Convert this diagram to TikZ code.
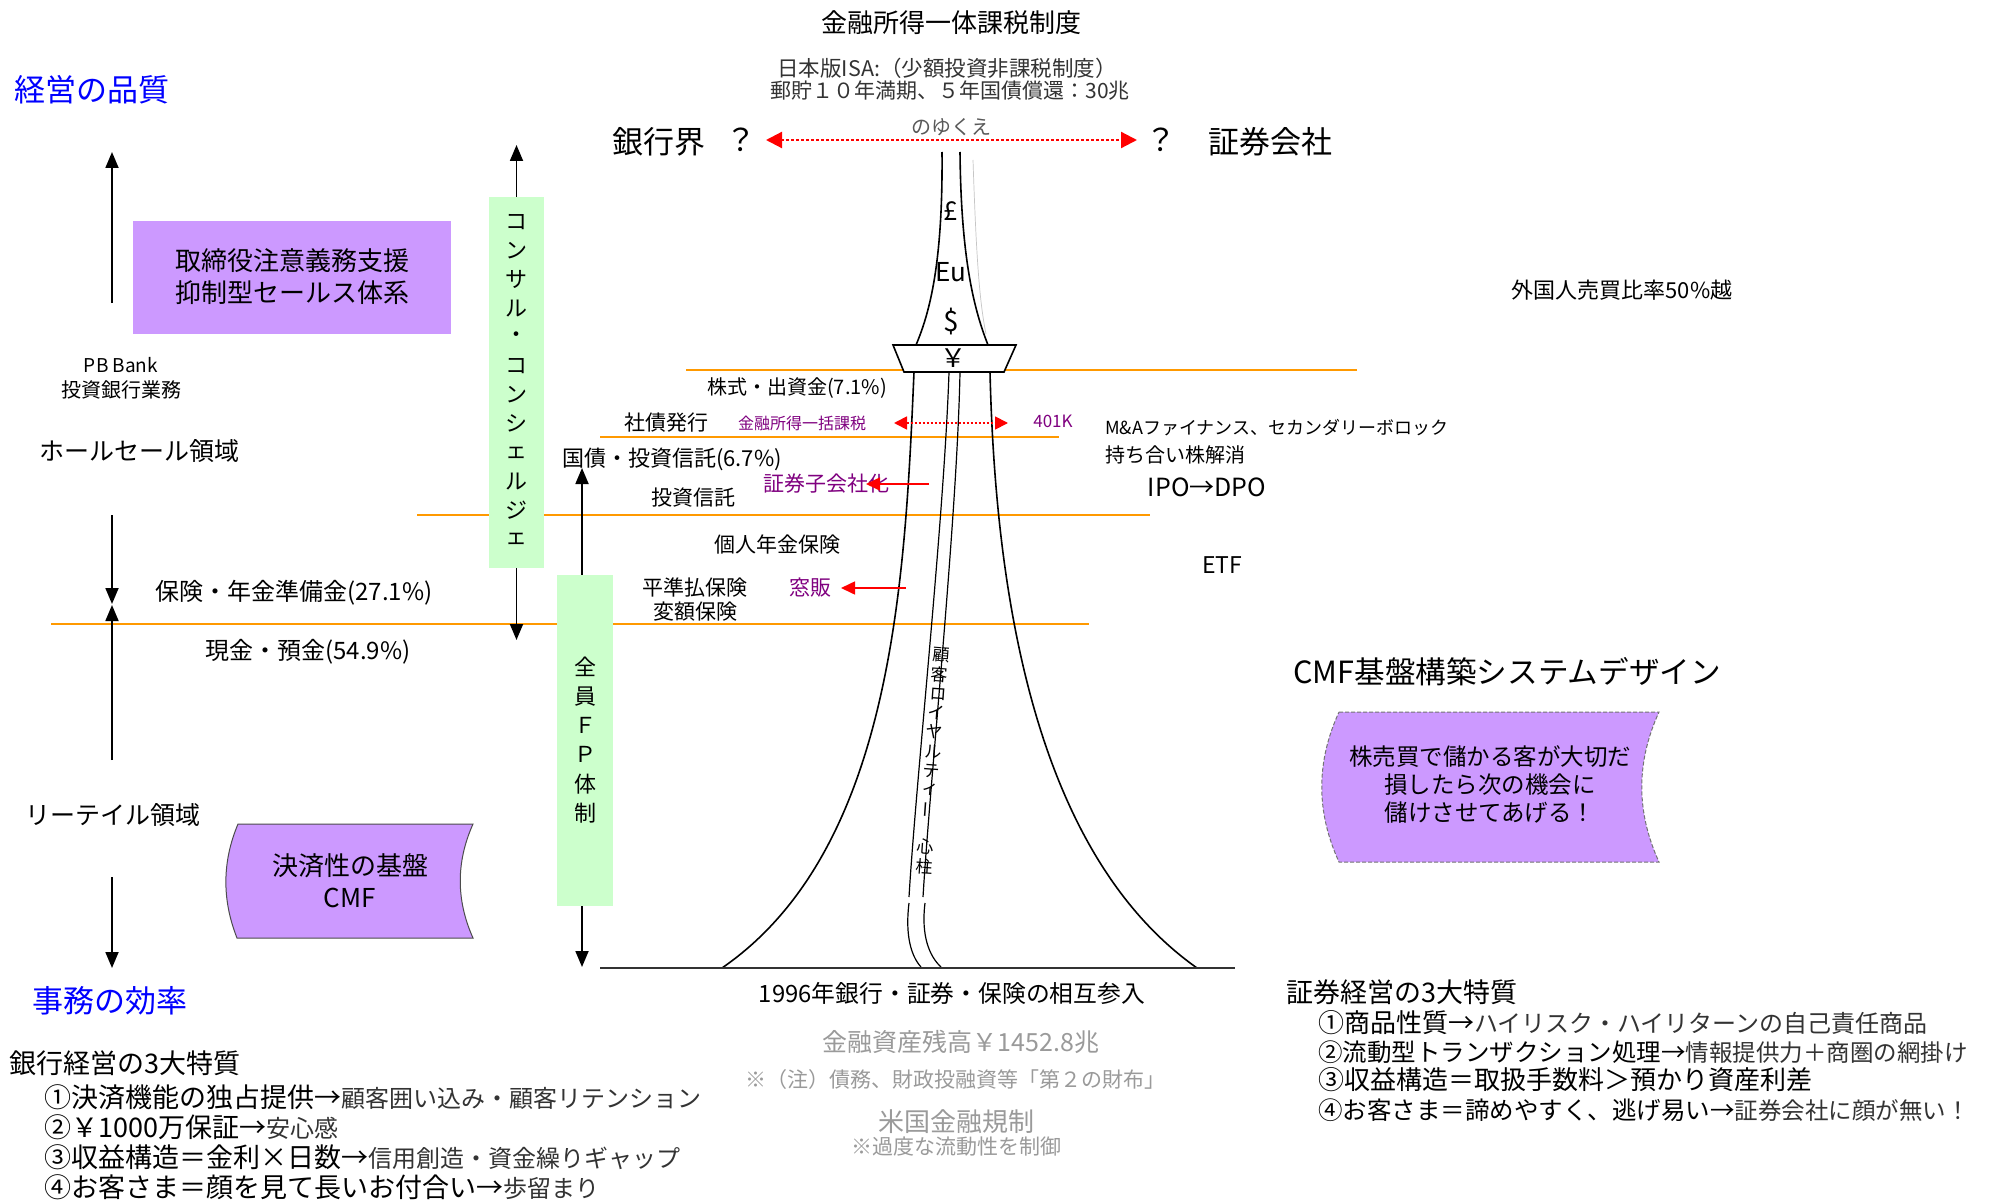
\documentclass[tikz,border=0pt]{standalone}
\usepackage{fontspec}
\setmainfont{Noto Sans CJK JP}
\usetikzlibrary{arrows.meta}
\definecolor{orangeline}{HTML}{FF9900}
\definecolor{lavender}{HTML}{CC99FF}
\definecolor{mint}{HTML}{CCFFCC}
\definecolor{purpletext}{HTML}{800080}
\definecolor{bluetext}{HTML}{0000FF}
\definecolor{softtext}{HTML}{333333}
\definecolor{fadedtext}{HTML}{9A9A9A}
\newcommand\fsz[1]{\fontsize{#1pt}{#1pt}\selectfont}

\begin{document}
\begin{tikzpicture}[x=1pt,y=-1pt,
  txt/.style={inner sep=0pt},
  band/.style={draw=orangeline,line width=2pt},
  tower/.style={draw=black,line width=1.6pt},
  blkarrow/.style={-{Triangle[length=16pt,width=13pt]},line width=1.8pt},
  redarrow/.style={-{Triangle[length=14pt,width=13pt]},draw=red,line width=1.6pt},
  reddots/.style={{Triangle[length=16pt,width=16pt]}-{Triangle[length=16pt,width=16pt]},draw=red,line width=2.2pt,dash pattern=on 2.5pt off 2.5pt},
  reddotsmall/.style={{Triangle[length=13pt,width=13pt]}-{Triangle[length=13pt,width=13pt]},draw=red,line width=1.8pt,dash pattern=on 2pt off 2pt},
  greenbox/.style={fill=mint,draw=none,inner sep=0pt},
  purplebox/.style={fill=lavender,draw=none,inner sep=0pt}
]
\useasboundingbox[fill=white] (0,0) rectangle (1993,1201);

% ---------- headings at the top ----------
\node[txt,font=\fsz{26}] (title) at (951,23) {金融所得一体課税制度};
\node[txt,font=\fsz{21.5},text=softtext] (isa1) at (947,68) {日本版ISA:（少額投資非課税制度）};
\node[txt,font=\fsz{21},text=softtext] (isa2) at (950,91) {郵貯１０年満期、５年国債償還：30兆};
\node[txt,font=\fsz{31},text=bluetext,anchor=west] (quality) at (14,90) {経営の品質};
\node[txt,font=\fsz{31},text=bluetext,anchor=west] (efficiency) at (32,1001) {事務の効率};

\node[txt,font=\fsz{31},anchor=west] (banks) at (612,142) {銀行界};
\node[txt,font=\fsz{31}] (qleft) at (741,140) {？};
\node[txt,font=\fsz{31}] (qright) at (1161,140) {？};
\node[txt,font=\fsz{31},anchor=west] (brokers) at (1208,142) {証券会社};
\node[txt,font=\fsz{20},text=black!65] (whither) at (951,127) {のゆくえ};
\coordinate (wl) at (766,140);
\coordinate (wr) at (1137,140);
\draw[reddots] (wl) -- (wr);

% ---------- asset-class bands ----------
\coordinate (b1l) at (686,370);  \coordinate (b1r) at (1357,370);
\coordinate (b2l) at (600,437);  \coordinate (b2r) at (1059,437);
\coordinate (b3l) at (417,515);  \coordinate (b3r) at (1150,515);
\coordinate (b4l) at (51,624);   \coordinate (b4r) at (1089,624);
\draw[band] (b1l) -- (b1r);
\draw[band] (b2l) -- (b2r);
\draw[band] (b3l) -- (b3r);
\draw[band] (b4l) -- (b4r);

% ---------- the tower ----------
% spire
\draw[tower] (942,152) .. controls (943,262) and (930,312) .. (916,345);
\draw[tower] (960,152) .. controls (961,262) and (975,312) .. (988,345);
\draw[gray!45,line width=0.7pt] (973,160) .. controls (976,250) and (979,300) .. (986,334);
% observation deck
\draw[tower,fill=white] (893,345) -- (1016,345) -- (1004,372) -- (904,372) -- cycle;
% legs
\coordinate (footl) at (722,968);
\coordinate (footr) at (1197,968);
\draw[tower] (914,372) .. controls (905,580) and (893,850) .. (footl);
\draw[tower] (990,372) .. controls (995,580) and (1030,850) .. (footr);
% central pillar
\draw[line width=1.2pt] (949,372) .. controls (944,520) and (916,780) .. (909,897);
\draw[line width=1.2pt] (960,372) .. controls (957,520) and (930,780) .. (923,897);
\draw[line width=1.2pt] (909,903) .. controls (905,935) and (911,956) .. (921,967);
\draw[line width=1.2pt] (925,903) .. controls (921,935) and (929,956) .. (941,967);
% ground
\coordinate (gl) at (600,968);
\coordinate (gr) at (1235,968);
\draw[line width=2pt,draw=black!80] (gl) -- (gr);

% currencies on the spire
\node[txt,font=\fsz{26}] (pound) at (951,211) {£};
\node[txt,font=\fsz{26}] (euro) at (951,272) {Eu};
\node[txt,font=\fsz{28}] (dollar) at (951,322) {\$};
\node[txt,font=\fsz{26}] (yen) at (953,358) {￥};

% pillar caption
\foreach \ch/\yy [count=\i] in {顧/655,客/675,ロ/694,イ/713,ヤ/732,ル/752,テ/771,ィ/790,心/847,柱/867}
  \node[txt,font=\fsz{17},rotate=-4] (pillar\i) at ({941-(\yy-655)*0.08},\yy) {\ch};
\node[txt,font=\fsz{17},rotate=86] (pillarbar) at ({941-(810-655)*0.08},810) {ー};

% ---------- labels inside the bands ----------
\node[txt,font=\fsz{20}] (stocks) at (797,388) {株式・出資金(7.1\%)};
\node[txt,font=\fsz{21}] (bonds) at (666,423) {社債発行};
\node[txt,font=\fsz{16},text=purpletext] (lumptax) at (802,423) {金融所得一括課税};
\node[txt,font=\fsz{17},text=purpletext] (k401) at (1053,421) {401K};
\coordinate (tl) at (894,423);
\coordinate (tr) at (1008,423);
\draw[reddotsmall] (tl) -- (tr);
\node[txt,font=\fsz{22}] (jgb) at (672,459) {国債・投資信託(6.7\%)};
\node[txt,font=\fsz{21},text=purpletext] (subsid) at (826,484) {証券子会社化};
\coordinate (subsidsrc) at (929,484);
\coordinate (subsidtip) at (866,484);
\draw[redarrow] (subsidsrc) -- (subsidtip);
\node[txt,font=\fsz{21}] (trust) at (693,498) {投資信託};
\node[txt,font=\fsz{21}] (pension) at (777,545) {個人年金保険};
\node[txt,font=\fsz{21}] (level) at (695,588) {平準払保険};
\node[txt,font=\fsz{21}] (variable) at (695,612) {変額保険};
\node[txt,font=\fsz{21},text=purpletext] (counter) at (810,588) {窓販};
\coordinate (countersrc) at (906,588);
\coordinate (countertip) at (841,588);
\draw[redarrow] (countersrc) -- (countertip);

\node[txt,font=\fsz{18},anchor=west] (manda) at (1105,428) {M\&Aファイナンス、セカンダリーボロック};
\node[txt,font=\fsz{20},anchor=west] (cross) at (1105,455) {持ち合い株解消};
\node[txt,font=\fsz{25}] (ipo) at (1207,487) {IPO→DPO};
\node[txt,font=\fsz{23}] (etf) at (1222,565) {ETF};
\node[txt,font=\fsz{22}] (foreign) at (1622,290) {外国人売買比率50\%越};

% ---------- left side ----------
\node[purplebox,minimum width=318pt,minimum height=113pt,align=center,
      font=\fontsize{26pt}{32pt}\selectfont] (sales) at (292,277) {取締役注意義務支援\\抑制型セールス体系};
\node[txt,font=\fsz{19}] (pb) at (121,365) {PB Bank};
\node[txt,font=\fsz{20}] (ib) at (121,390) {投資銀行業務};
\node[txt,font=\fsz{25},anchor=west] (wholesale) at (39,451) {ホールセール領域};
\node[txt,font=\fsz{24}] (insur) at (294,593) {保険・年金準備金(27.1\%)};
\node[txt,font=\fsz{24}] (cash) at (308,652) {現金・預金(54.9\%)};
\node[txt,font=\fsz{25},anchor=west] (retail) at (25,815) {リーテイル領域};

\coordinate (a1s) at (112,303); \coordinate (a1t) at (112,152);
\coordinate (a2s) at (112,515); \coordinate (a2t) at (112,604);
\coordinate (a3s) at (112,760); \coordinate (a3t) at (112,605);
\coordinate (a4s) at (112,877); \coordinate (a4t) at (112,968);
\draw[blkarrow] (a1s) -- (a1t);
\draw[blkarrow] (a2s) -- (a2t);
\draw[blkarrow] (a3s) -- (a3t);
\draw[blkarrow] (a4s) -- (a4t);

% settlement base
\draw[draw=black!70,line width=1pt,fill=lavender]
  (238,824) -- (473,824) .. controls (456,862) and (456,900) .. (473,938)
  -- (237,938) .. controls (222,900) and (222,862) .. (238,824) -- cycle;
\node[txt,align=center,font=\fontsize{26pt}{32pt}\selectfont] (settle) at (350,881) {決済性の基盤\\CMF};

% ---------- vertical columns ----------
\node[greenbox,minimum width=55pt,minimum height=371pt] (consul) at (516.5,382.5) {};
\foreach \ch [count=\i] in {コ,ン,サ,ル,・,コ,ン,シ,ェ,ル,ジ,ェ}
  \node[txt,font=\fsz{22}] (cs\i) at (516.5,{193.2+28.8*\i}) {\ch};
\coordinate (consulup) at (516.5,145);
\coordinate (consuldown) at (516.5,640);
\draw[blkarrow] (consul.north) -- (consulup);
\draw[blkarrow] (consul.south) -- (consuldown);

\node[greenbox,minimum width=56pt,minimum height=331pt] (allfp) at (585,740.5) {};
\foreach \ch [count=\i] in {全,員,Ｆ,Ｐ,体,制}
  \node[txt,font=\fsz{22}] (fp\i) at (585,{637.7+29.3*\i}) {\ch};
\coordinate (fpup) at (582,468);
\coordinate (fpdown) at (582,967);
\draw[blkarrow] (allfp.north -| fpup) -- (fpup);
\draw[blkarrow] (allfp.south -| fpdown) -- (fpdown);

% ---------- right side ----------
\node[txt,font=\fsz{30.6}] (cmftitle) at (1507,672) {CMF基盤構築システムデザイン};
\draw[draw=black!55,line width=1pt,dash pattern=on 4pt off 2pt,fill=lavender]
  (1339,712) -- (1659,712) .. controls (1636,762) and (1636,812) .. (1659,862)
  -- (1339,862) .. controls (1316,812) and (1316,762) .. (1339,712) -- cycle;
\node[txt,align=center,font=\fontsize{23.5pt}{28pt}\selectfont] (motto) at (1490,784)
  {株売買で儲かる客が大切だ\\損したら次の機会に\\儲けさせてあげる！};

% ---------- bottom centre ----------
\node[txt,font=\fsz{23.8}] (entry) at (952,993) {1996年銀行・証券・保険の相互参入};
\node[txt,font=\fsz{25},text=fadedtext] (assets) at (961,1042) {金融資産残高￥1452.8兆};
\node[txt,font=\fsz{21},text=fadedtext] (wallet) at (955,1080) {※（注）債務、財政投融資等「第２の財布」};
\node[txt,font=\fsz{26},text=fadedtext] (usreg) at (956,1122) {米国金融規制};
\node[txt,font=\fsz{21},text=fadedtext] (liquid) at (956,1147) {※過度な流動性を制御};

% ---------- the two lists ----------
\node[txt,font=\fsz{27},anchor=west] (bankhead) at (9,1063) {銀行経営の3大特質};
\node[txt,anchor=west] (bank1) at (44,1097) {\fsz{27}①決済機能の独占提供→{\color{softtext}\fsz{24}顧客囲い込み・顧客リテンション}};
\node[txt,anchor=west] (bank2) at (44,1127) {\fsz{27}②￥1000万保証→{\color{softtext}\fsz{24}安心感}};
\node[txt,anchor=west] (bank3) at (44,1157) {\fsz{27}③収益構造＝金利×日数→{\color{softtext}\fsz{24}信用創造・資金繰りギャップ}};
\node[txt,anchor=west] (bank4) at (44,1187) {\fsz{27}④お客さま＝顔を見て長いお付合い→{\color{softtext}\fsz{24}歩留まり}};

\node[txt,font=\fsz{27},anchor=west] (sechead) at (1286,992) {証券経営の3大特質};
\node[txt,anchor=west] (sec1) at (1318,1023) {\fsz{26}①商品性質→{\color{softtext}\fsz{24}ハイリスク・ハイリターンの自己責任商品}};
\node[txt,anchor=west] (sec2) at (1318,1052) {\fsz{24.5}②流動型トランザクション処理→{\color{softtext}\fsz{23.5}情報提供力＋商圏の網掛け}};
\node[txt,anchor=west] (sec3) at (1318,1080) {\fsz{26}③収益構造＝取扱手数料＞預かり資産利差};
\node[txt,anchor=west] (sec4) at (1318,1110) {\fsz{24.5}④お客さま＝諦めやすく、逃げ易い→{\color{softtext}\fsz{23.5}証券会社に顔が無い！}};
\end{tikzpicture}
\end{document}
